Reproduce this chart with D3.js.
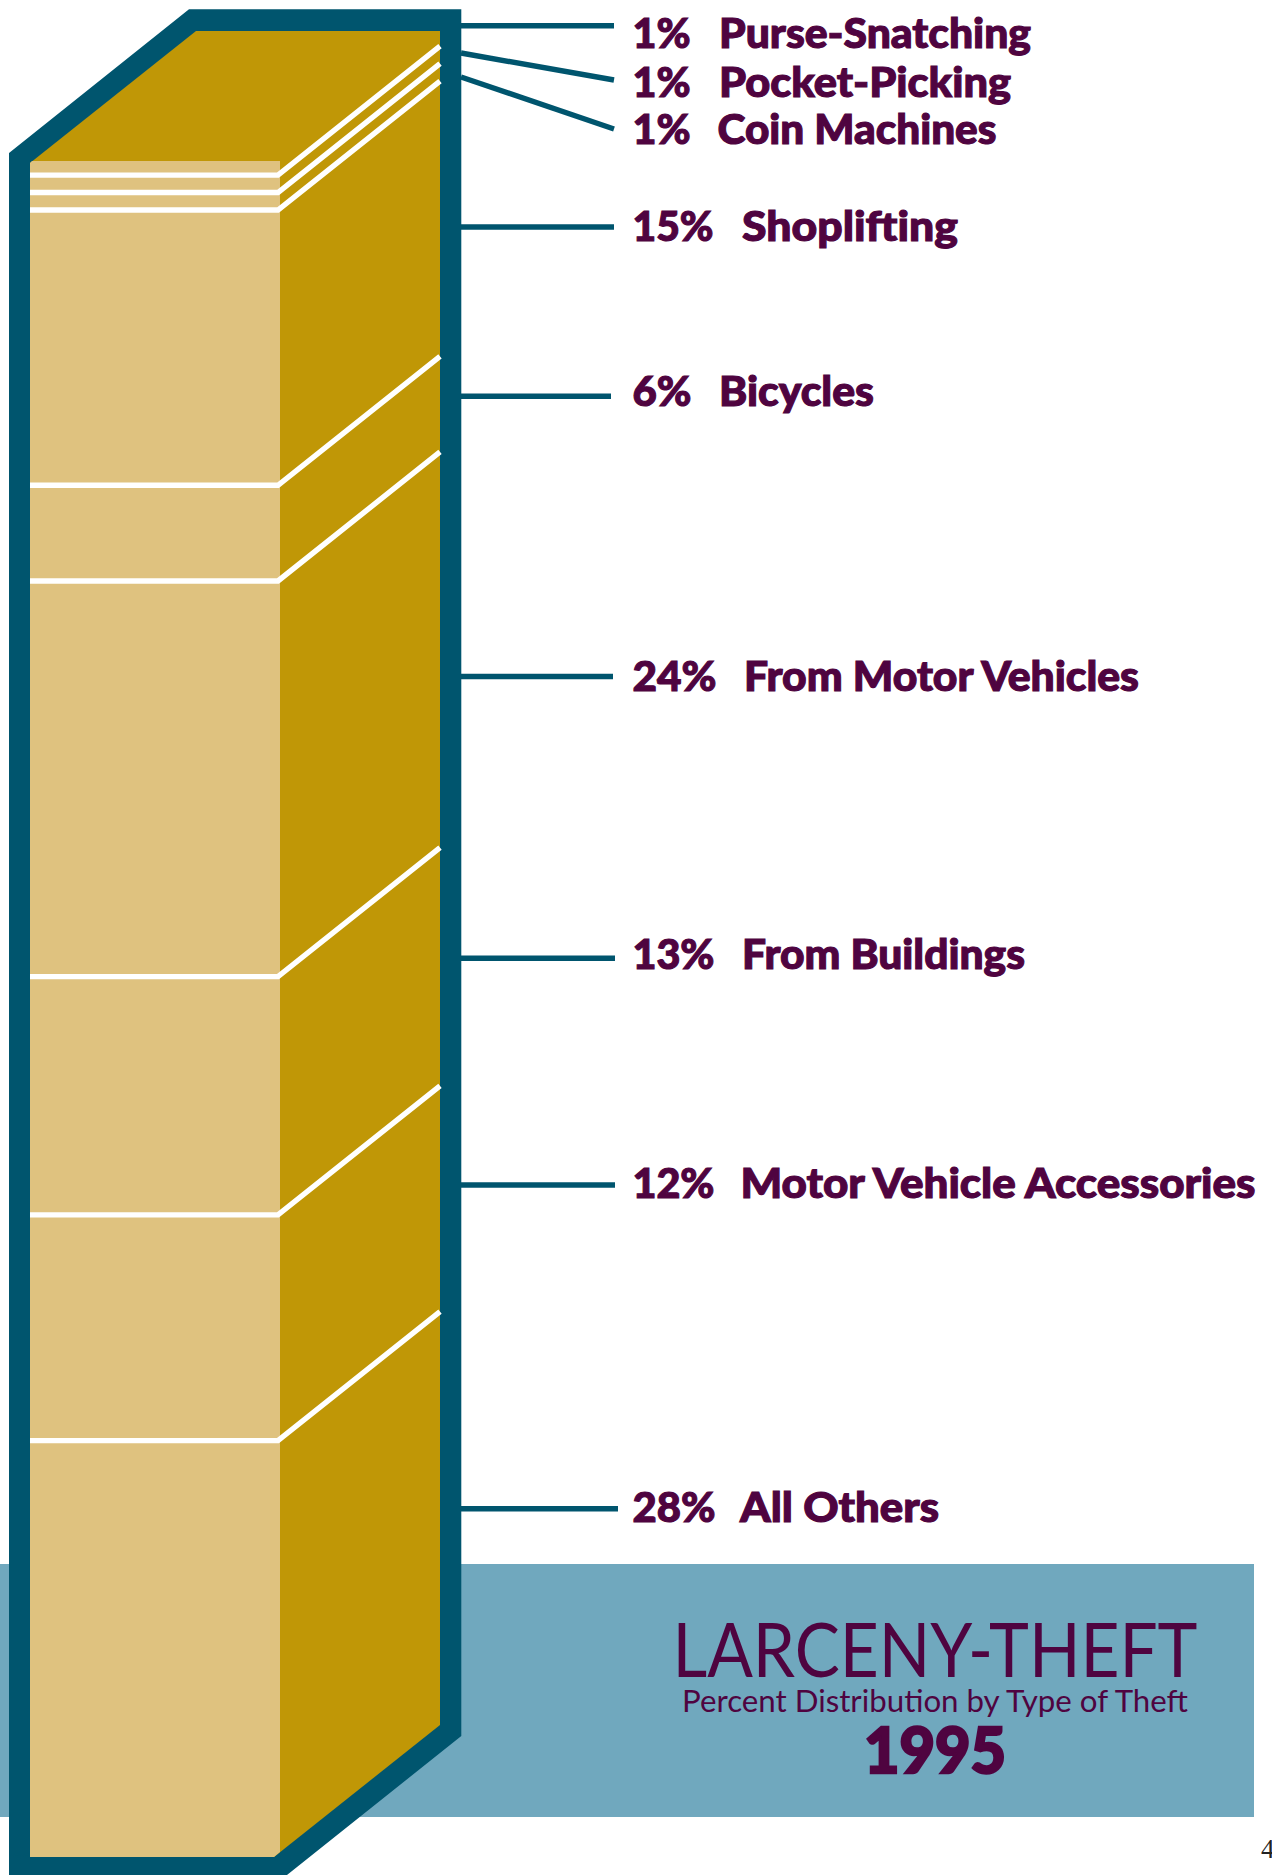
<!DOCTYPE html>
<html>
<head>
<meta charset="utf-8">
<script src="https://cdnjs.cloudflare.com/ajax/libs/d3/7.8.5/d3.min.js"></script>
<style>
html,body{margin:0;padding:0;background:#fff;overflow:hidden}
svg{display:block}
</style>
</head>
<body>
<div id="chart"></div>
<script>
// ---- Data ----
const categories = ["Purse-Snatching","Pocket-Picking","Coin Machines","Shoplifting","Bicycles","From Motor Vehicles","From Buildings","Motor Vehicle Accessories","All Others"];
const percentLabels = [1,1,1,15,6,24,13,12,28];
// Share of the column's drawn height taken by each layer (as measured in the picture, %)
const drawnShare = [0.83,1.03,1.03,16.23,5.64,23.33,14.05,13.31,24.55];
const titleText = "LARCENY-THEFT";
const subtitleText = "Percent Distribution by Type of Theft";
const yearText = "1995";
const pageNumber = "4";

// ---- Layout ----
const W = 1272, H = 1875;
const colors = {frame:"#00556E", band:"#70A8BE", side:"#C09706", front:"#DFC27F", ink:"#4F0440", white:"#FFFFFF"};
const labelBaseline = [47.7,96.7,144.3,240.7,406,691,969.3,1197.7,1521.7];
const pctX = 632.5;
const pctWidth = [58,58,58,81,59,84,82,82,83];
const nameX = [719,719,717.5,742,719,744,742,740.5,740];
const nameWidth = [312,292,279,216,155,395,283,515,199];
const leaderStartY = [25.7,53,77,227,396.3,676.5,958.3,1185,1508.7];
const leaderEndY   = [25.7,80,129,227,396.3,676.5,958.3,1185,1508.7];
const leaderEndX   = [614,614,614,614,611,613,615,615,618];

const svg = d3.select("#chart").append("svg").attr("width",W).attr("height",H).attr("viewBox",`0 0 ${W} ${H}`);
const poly = d3.line().x(d=>d[0]).y(d=>d[1]);
const closed = pts => poly(pts)+"Z";

const frontLeft=30, frontRight=280, innerRight=440, frontTop=161, frontBottom=1857, depthRise=129;

// y position through the column, by cumulative drawn share
const y = d3.scaleLinear().domain([0,d3.sum(drawnShare)]).range([frontTop,frontBottom]);
const cumulative = d3.cumsum(drawnShare);

// background band
svg.append("rect").attr("x",0).attr("y",1564).attr("width",1254).attr("height",253).attr("fill",colors.band);

// frame
svg.append("path").attr("fill",colors.frame)
  .attr("d",closed([[189,9.3],[461.3,9.3],[461.3,1736],[287,1875],[287,1880],[9,1880],[9,153]]));
// side + top
svg.append("path").attr("fill",colors.side)
  .attr("d",closed([[196,31],[innerRight,31],[innerRight,1725],[274,frontBottom],[frontLeft,frontBottom],[frontLeft,163]]));
// front face
svg.append("path").attr("fill",colors.front)
  .attr("d",closed([[frontLeft,163],[32,frontTop],[frontRight,frontTop],[frontRight,1852],[274,frontBottom],[frontLeft,frontBottom]]));

// divider lines between layers
svg.append("g").selectAll("path").data(cumulative.slice(0,-1)).join("path")
  .attr("fill","none").attr("stroke",colors.white).attr("stroke-width",5.4).attr("stroke-linejoin","miter")
  .attr("d",d=>poly([[frontLeft,y(d)],[frontRight-2,y(d)],[innerRight,y(d)-depthRise]]));

// leader lines
svg.append("g").selectAll("line").data(categories).join("line")
  .attr("x1",461).attr("x2",(d,i)=>leaderEndX[i])
  .attr("y1",(d,i)=>leaderStartY[i]).attr("y2",(d,i)=>leaderEndY[i])
  .attr("stroke",colors.frame).attr("stroke-width",5.4);

// labels
const labelFont = "Lato, 'Open Sans', sans-serif";
const labels = svg.append("g").attr("fill",colors.ink).attr("stroke",colors.ink).attr("stroke-width",1.1)
  .attr("font-family",labelFont).attr("font-weight",900).attr("font-size",41);
labels.selectAll("text.pct").data(percentLabels).join("text").attr("class","pct")
  .attr("x",pctX).attr("y",(d,i)=>labelBaseline[i])
  .attr("textLength",(d,i)=>pctWidth[i]).attr("lengthAdjust","spacingAndGlyphs")
  .text(d=>d+"%");
labels.selectAll("text.name").data(categories).join("text").attr("class","name")
  .attr("x",(d,i)=>nameX[i]).attr("y",(d,i)=>labelBaseline[i])
  .attr("textLength",(d,i)=>nameWidth[i]).attr("lengthAdjust","spacingAndGlyphs")
  .text(d=>d);

// title block
svg.append("text").attr("x",672.5).attr("y",1677).attr("fill",colors.ink)
  .attr("font-family",labelFont).attr("font-weight",400).attr("font-size",76)
  .attr("textLength",525).attr("lengthAdjust","spacingAndGlyphs").text(titleText);
svg.append("text").attr("x",682).attr("y",1712).attr("fill",colors.ink)
  .attr("font-family",labelFont).attr("font-weight",400).attr("font-size",31)
  .attr("textLength",506).attr("lengthAdjust","spacingAndGlyphs").text(subtitleText);
svg.append("text").attr("x",864).attr("y",1773).attr("fill",colors.ink).attr("stroke",colors.ink).attr("stroke-width",2.4)
  .attr("font-family",labelFont).attr("font-weight",900).attr("font-size",62)
  .attr("textLength",142).attr("lengthAdjust","spacingAndGlyphs").text(yearText);

// page number
svg.append("text").attr("x",1261).attr("y",1858).attr("fill","#222")
  .attr("font-family","'Liberation Serif', serif").attr("font-size",27).text(pageNumber);
</script>
</body>
</html>
